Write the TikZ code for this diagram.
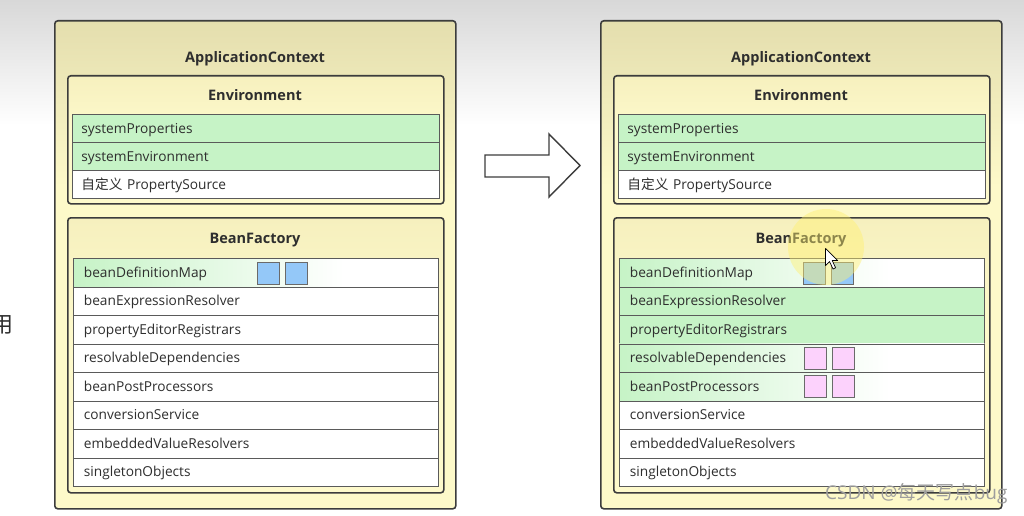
\documentclass[tikz,border=0pt]{standalone}
\usepackage{fontspec}
\setmainfont{Open Sans}
\newfontfamily\cjk{Noto Sans CJK SC}
\usetikzlibrary{shadings}
\definecolor{bgtop}{HTML}{D8D8D8}
\definecolor{paneltop}{HTML}{E4DEAE}
\definecolor{panelbot}{HTML}{FDF9C9}
\definecolor{boxtop}{HTML}{F6F0BE}
\definecolor{boxbot}{HTML}{FDF9CB}
\definecolor{rowgreen}{HTML}{C6F3C6}
\definecolor{rowline}{HTML}{5A5A5A}
\definecolor{frame}{HTML}{3C3C3C}
\definecolor{txt}{HTML}{2E2E2E}
\definecolor{sqblue}{HTML}{94C8F8}
\definecolor{sqpink}{HTML}{FCD2FC}
\definecolor{sqline}{HTML}{6A6A6A}
\definecolor{glow}{HTML}{FFF070}
\pgfdeclarehorizontalshading{greenfade}{100bp}{color(0bp)=(rowgreen); color(25bp)=(rowgreen); color(62bp)=(white); color(100bp)=(white)}
\pgfdeclareverticalshading{panelshade}{100bp}{color(0bp)=(panelbot); color(58bp)=(panelbot); color(75bp)=(paneltop); color(100bp)=(paneltop)}
\pgfdeclareverticalshading{boxshade}{100bp}{color(0bp)=(boxbot); color(55bp)=(boxbot); color(75bp)=(boxtop); color(100bp)=(boxtop)}
\tikzset{
  panel/.style={draw=frame, line width=1.6pt, rounded corners=3pt, shading=panelshade, anchor=north west, inner sep=0pt},
  subbox/.style={draw=frame, line width=1.6pt, rounded corners=3pt, shading=boxshade, anchor=north west, inner sep=0pt, minimum width=376pt},
  title/.style={font=\bfseries\fontsize{14.5}{16}\selectfont, text=txt, inner sep=0pt, anchor=base},
  rowbase/.style={draw=rowline, line width=0.8pt, anchor=north west, inner ysep=0pt, align=left, text=txt, font=\fontsize{13.7}{15}\selectfont, text height=11pt, text depth=1.6pt},
  envrow/.style={rowbase, minimum height=28pt, text width=349pt, inner xsep=9pt},
  beanrow/.style={rowbase, minimum height=28.5pt, text width=344pt, inner xsep=10.5pt},
  plain/.style={fill=white},
  green/.style={fill=rowgreen},
  fade/.style={shading=greenfade},
  sq/.style={draw=sqline, line width=0.8pt, minimum size=22pt, inner sep=0pt},
  bluesq/.style={sq, fill=sqblue},
  pinksq/.style={sq, fill=sqpink},
}
\newcommand\drawpanel[6]{%
\begin{scope}[xshift=#2pt, name prefix=#1-]
  \node[panel, minimum width=401pt, minimum height=488pt] (ac) at (54,20) {};
  \node[title] (actitle) at (255,62.5) {ApplicationContext};
  \node[subbox, minimum height=128pt] (env) at (67,75) {};
  \node[title] (envtitle) at (255,100) {Environment};
  \node[envrow, green] (sp) at (72,114) {systemProperties};
  \node[envrow, green] (se) at (72,142) {systemEnvironment};
  \node[envrow, plain] (ps) at (72,170) {{\cjk 自定义} PropertySource};
  \node[subbox, minimum height=275pt] (bf) at (67,217) {};
  \node[title] (bftitle) at (255,243.5) {BeanFactory};
  \node[beanrow, fade] (bdm) at (73,258) {beanDefinitionMap};
  \node[beanrow, #3] (ber) at (73,286.5) {beanExpressionResolver};
  \node[beanrow, #4] (per) at (73,315) {propertyEditorRegistrars};
  \node[beanrow, #5] (rd) at (73,343.5) {resolvableDependencies};
  \node[beanrow, #6] (bpp) at (73,372) {beanPostProcessors};
  \node[beanrow, plain] (cs) at (73,400.5) {conversionService};
  \node[beanrow, plain] (evr) at (73,429) {embeddedValueResolvers};
  \node[beanrow, plain] (so) at (73,457.5) {singletonObjects};
\end{scope}}
\begin{document}
\begin{tikzpicture}[x=1pt, y=-1pt]
\useasboundingbox (0,0) rectangle (1024,516);
\fill[white] (0,0) rectangle (1024,516);
\shade[top color=bgtop, bottom color=white] (0,0) rectangle (1024,125);
% character cut off at the left edge, as in the reference
\node[font=\cjk\fontsize{22}{24}\selectfont, text=txt, inner sep=0pt] (yong) at (2,325) {用};
\drawpanel{L}{0}{plain}{plain}{plain}{plain}
\drawpanel{R}{546}{green}{green}{fade}{fade}
% squares
\node[bluesq] (L-q1) at (268,273) {};
\node[bluesq] (L-q2) at (296,273) {};
\node[bluesq] (R-q1) at (814,273) {};
\node[bluesq] (R-q2) at (842,273) {};
\node[pinksq] (R-q3) at (815,358) {};
\node[pinksq] (R-q4) at (843,358) {};
\node[pinksq] (R-q5) at (815,386) {};
\node[pinksq] (R-q6) at (843,386) {};
% big arrow
\draw[draw=frame, line width=1.4pt, fill=white, line join=miter]
  (485,155) -- (549,155) -- (549,134) -- (580,165.5) -- (549,197) -- (549,177) -- (485,177) -- cycle;
% cursor highlight
\fill[glow, fill opacity=0.45] (826,247) circle (38);
\node[circle, inner sep=0pt, minimum size=0pt] (cur) at (825.5,248.5) {};
\draw[black, line width=0.7pt, fill=white, line join=round]
  (cur.center) -- ++(0,17) -- ++(4,-4) -- ++(3.5,7.5) -- ++(2.6,-1.2) -- ++(-3.4,-7.3) -- ++(5.5,0) -- cycle;
% watermark
\node[anchor=west, font=\fontsize{19}{21}\selectfont, text=black!38, inner sep=0pt] (wm) at (825,494) {CSDN @{\cjk 每天写点}bug};
\end{tikzpicture}
\end{document}
